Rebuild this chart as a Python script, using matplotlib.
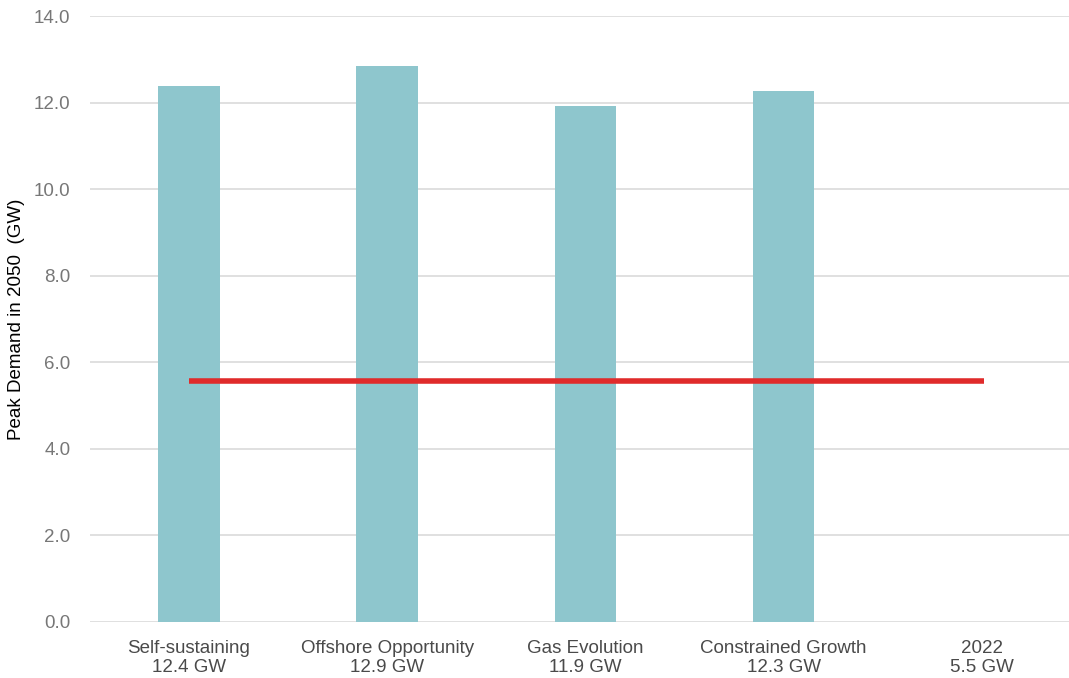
import numpy as np
import matplotlib.pyplot as plt

# scenario names and 2050 peak demand (GW)
scenarios = ['Self-sustaining', 'Offshore Opportunity', 'Gas Evolution',
             'Constrained Growth', '2022']
peak_2050 = [12.38, 12.85, 11.92, 12.27, 0.0]
tick_labels = ['Self-sustaining\n12.4 GW', 'Offshore Opportunity\n12.9 GW',
               'Gas Evolution\n11.9 GW', 'Constrained Growth\n12.3 GW',
               '2022\n5.5 GW']
peak_2022 = 5.57

plt.rcParams['font.family'] = ['Liberation Sans', 'DejaVu Sans']

fig = plt.figure(figsize=(10.69, 6.78), dpi=100)
ax = fig.add_axes([0.084, 0.0826, 0.916, 0.8938])

x = np.arange(len(scenarios))
ax.bar(x[:4], peak_2050[:4], width=0.31, color='#8EC6CD', zorder=2)

# 2022 reference line across all categories
ax.plot([x[0], x[-1] + 0.01], [peak_2022, peak_2022], color='#E02B2B', lw=4,
        solid_capstyle='butt', zorder=3)

ax.set_ylim(0, 14)
ax.set_xlim(-0.5, 4.44)
ax.set_yticks(np.arange(0, 15, 2))
ax.set_yticklabels([f'{v:.1f}' for v in np.arange(0, 15, 2)])
ax.set_xticks(x)
ax.set_xticklabels(tick_labels, fontsize=13.5, color='#4A4A4A', linespacing=1.15)

ax.grid(axis='y', color='#DDDDDD', lw=1.3, zorder=0)
ax.set_axisbelow(True)
for s in ax.spines.values():
    s.set_visible(False)
ax.tick_params(axis='both', length=0)
ax.tick_params(axis='y', labelsize=13.5, labelcolor='#777777', pad=14)
ax.tick_params(axis='x', pad=13)

ax.set_ylabel('Peak Demand in 2050  (GW)', fontsize=13.5, color='black', labelpad=6)

fig.savefig('out.png', dpi=100)
